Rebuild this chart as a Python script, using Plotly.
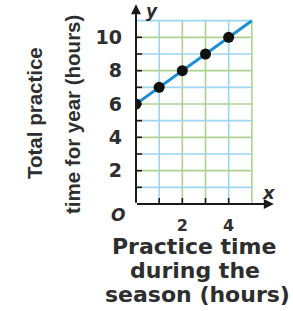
import plotly.graph_objects as go

# Data
season_hours = [0, 1, 2, 3, 4]
total_hours = [6, 7, 8, 9, 10]
line_x = [0, 5]
line_y = [6, 11]
y_tick_vals = [2, 4, 6, 8, 10]
y_tick_text = ["2", "4", "6", "8", "10"]
x_tick_vals = [2, 4]
x_tick_text = ["2", "4"]
grid_x = [1, 2, 3, 4, 5]
grid_y = [1, 2, 3, 4, 5, 6, 7, 8, 9, 10, 11]
minor_y = [1, 2, 3, 4, 5, 6, 7, 8, 9, 10]
minor_x = [1, 2, 3, 4]

BLUE = "#9ad6f2"
GREEN = "#aed38f"
TXT = "#2e2e2e"
W, H = 293, 311
L, R, T, B = 136, 18, 4, 107
X_MAX, Y_MAX = 6.0, 12.0
GRID_XMAX, GRID_YMAX = 5, 11

fig = go.Figure()

shapes = []
vcolors = {1: BLUE, 2: GREEN, 3: GREEN, 4: BLUE, 5: GREEN}
for gx in grid_x:
    shapes.append(dict(type="line", xref="x", yref="y", x0=gx, x1=gx, y0=0, y1=GRID_YMAX,
                       line=dict(color=vcolors[gx], width=1.6), layer="below"))
for gy in grid_y:
    shapes.append(dict(type="line", xref="x", yref="y", x0=0, x1=GRID_XMAX, y0=gy, y1=gy,
                       line=dict(color=GREEN if gy % 2 == 0 else BLUE, width=1.6), layer="below"))
for my in minor_y:
    shapes.append(dict(type="line", xref="x", yref="y", xsizemode="pixel", xanchor=0,
                       x0=-9, x1=6, y0=my, y1=my, line=dict(color="#1a1a1a", width=1.6)))
for mx in minor_x:
    shapes.append(dict(type="line", xref="x", yref="y", ysizemode="pixel", yanchor=0,
                       x0=mx, x1=mx, y0=-6, y1=6, line=dict(color="#1a1a1a", width=1.6)))

fig.add_trace(go.Scatter(x=line_x, y=line_y, mode="lines",
                         line=dict(color="#1c8fd0", width=3), hoverinfo="skip"))
fig.add_trace(go.Scatter(x=season_hours, y=total_hours, mode="markers",
                         marker=dict(color="#111111", size=11)))

annotations = [
    # axes with arrowheads
    dict(x=0, y=Y_MAX - 0.02, ax=0, ay=-0.02, xref="x", yref="y", axref="x", ayref="y",
         showarrow=True, arrowhead=2, arrowsize=1, arrowwidth=2, arrowcolor="#1a1a1a", text=""),
    dict(x=X_MAX - 0.05, y=0, ax=-0.02, ay=0, xref="x", yref="y", axref="x", ayref="y",
         showarrow=True, arrowhead=2, arrowsize=1, arrowwidth=2, arrowcolor="#1a1a1a", text=""),
]

def px_to_paper(px, py):
    return (px - L) / (W - L - R), (H - B - py) / (H - T - B)

def add_text(text, px, py, size, family, angle=0, italic=False):
    x, y = px_to_paper(px, py)
    annotations.append(dict(text=text, x=x, y=y, xref="paper", yref="paper",
                            xanchor="center", yanchor="middle", showarrow=False,
                            textangle=angle,
                            font=dict(size=size, family=family, color=TXT, weight="bold",
                                      style="italic" if italic else "normal")))

add_text("y", 152, 11, 17, "DejaVu Sans", italic=True)
add_text("x", 269, 192, 18, "DejaVu Sans", italic=True)
add_text("O", 118, 215, 17, "DejaVu Sans", italic=True)
add_text("Total practice", 35, 113, 20.5, "Liberation Sans", angle=-90)
add_text("time for year (hours)", 73, 115, 20.5, "Liberation Sans", angle=-90)
add_text("Practice time", 194, 246, 22, "DejaVu Sans")
add_text("during the", 195, 270, 22, "DejaVu Sans")
add_text("season (hours)", 197, 294, 22, "DejaVu Sans")

fig.update_layout(
    width=W, height=H,
    margin=dict(l=L, r=R, t=T, b=B, pad=0),
    paper_bgcolor="white", plot_bgcolor="white",
    showlegend=False,
    shapes=shapes,
    annotations=annotations,
    xaxis=dict(range=[0, X_MAX], showgrid=False, zeroline=False, showline=False,
               tickvals=x_tick_vals, ticktext=x_tick_text, ticks="",
               ticklabelstandoff=10,
               tickfont=dict(family="DejaVu Sans", size=16, color=TXT, weight="bold"),
               fixedrange=True),
    yaxis=dict(range=[0, Y_MAX], showgrid=False, zeroline=False, showline=False,
               tickvals=y_tick_vals, ticktext=y_tick_text, ticks="",
               ticklabelstandoff=13,
               tickfont=dict(family="DejaVu Sans", size=19, color=TXT, weight="bold"),
               fixedrange=True),
)

fig.write_html("out.html", config={"displayModeBar": False},
               post_script="document.body.style.margin='0';document.body.style.overflow='hidden';")
